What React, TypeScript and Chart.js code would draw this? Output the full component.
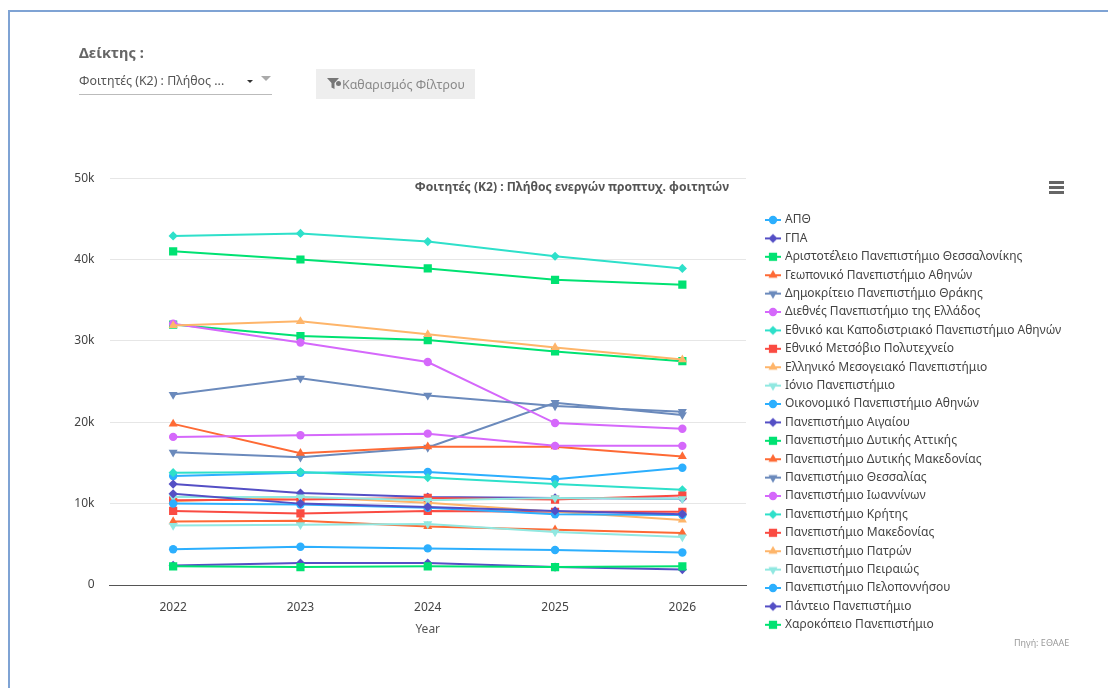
import React, { useEffect, useRef } from "react";
import { Chart, registerables } from "chart.js";
import { drawPoint } from "chart.js/helpers";

Chart.register(...registerables);

const years = ["2022", "2023", "2024", "2025", "2026"];
const chartTitle = "Φοιτητές (Κ2) : Πλήθος ενεργών προπτυχ. φοιτητών";
const seriesNames = [
  "ΑΠΘ",
  "ΓΠΑ",
  "Αριστοτέλειο Πανεπιστήμιο Θεσσαλονίκης",
  "Γεωπονικό Πανεπιστήμιο Αθηνών",
  "Δημοκρίτειο Πανεπιστήμιο Θράκης",
  "Διεθνές Πανεπιστήμιο της Ελλάδος",
  "Εθνικό και Καποδιστριακό Πανεπιστήμιο Αθηνών",
  "Εθνικό Μετσόβιο Πολυτεχνείο",
  "Ελληνικό Μεσογειακό Πανεπιστήμιο",
  "Ιόνιο Πανεπιστήμιο",
  "Οικονομικό Πανεπιστήμιο Αθηνών",
  "Πανεπιστήμιο Αιγαίου",
  "Πανεπιστήμιο Δυτικής Αττικής",
  "Πανεπιστήμιο Δυτικής Μακεδονίας",
  "Πανεπιστήμιο Θεσσαλίας",
  "Πανεπιστήμιο Ιωαννίνων",
  "Πανεπιστήμιο Κρήτης",
  "Πανεπιστήμιο Μακεδονίας",
  "Πανεπιστήμιο Πατρών",
  "Πανεπιστήμιο Πειραιώς",
  "Πανεπιστήμιο Πελοποννήσου",
  "Πάντειο Πανεπιστήμιο",
  "Χαροκόπειο Πανεπιστήμιο",
];

const apth = [4400, 4700, 4500, 4300, 4000];
const gpa = [2400, 2700, 2700, 2200, 1900];
const aristoteleio = [32000, 30600, 30100, 28700, 27500];
const geoponiko = [7800, 7900, 7200, 6800, 6400];
const dimokriteio = [16300, 15700, 16900, 22400, 20900];
const diethnes = [32100, 29800, 27400, 19900, 19200];
const ekpa = [42900, 43200, 42200, 40400, 38900];
const emp = [9100, 8800, 9100, 9000, 9000];
const mesogeiako = [10300, 10800, 10100, 9000, 8000];
const ionio = [7300, 7400, 7500, 6500, 5900];
const oikonomiko = [13400, 13800, 13900, 13000, 14400];
const aigaiou = [12400, 11300, 10800, 10700, 10600];
const dytikiAttiki = [41000, 40000, 38900, 37500, 36900];
const dytikiMakedonia = [19800, 16200, 17000, 17000, 15800];
const thessalia = [23400, 25400, 23300, 22000, 21300];
const ioannina = [18200, 18400, 18600, 17100, 17100];
const kriti = [13800, 13900, 13200, 12400, 11700];
const makedonia = [10400, 10500, 10700, 10500, 11000];
const patra = [31900, 32400, 30800, 29200, 27700];
const peiraias = [10800, 10800, 10400, 10700, 10600];
const peloponnisos = [10000, 9900, 9500, 8700, 8600];
const panteio = [11200, 10000, 9600, 9100, 8700];
const xarokopeio = [2300, 2200, 2300, 2200, 2300];

const seriesValues = [
  apth, gpa, aristoteleio, geoponiko, dimokriteio, diethnes, ekpa, emp, mesogeiako, ionio,
  oikonomiko, aigaiou, dytikiAttiki, dytikiMakedonia, thessalia, ioannina, kriti, makedonia,
  patra, peiraias, peloponnisos, panteio, xarokopeio,
];

const palette = ["#2caffe", "#544fc5", "#00e272", "#fe6a35", "#6b8abc", "#d568fb", "#2ee0ca", "#fa4b42", "#feb56a", "#91e8e1"];
const markers = [
  { pointStyle: "circle", radius: 4.2, rotation: 0 },
  { pointStyle: "rectRot", radius: 4.6, rotation: 0 },
  { pointStyle: "rect", radius: 5.8, rotation: 0 },
  { pointStyle: "triangle", radius: 5.2, rotation: 0 },
  { pointStyle: "triangle", radius: 5.2, rotation: 180 },
];
const FONT = "'Noto Sans', sans-serif";

function makeSprite(color: string, m: any) {
  const c = document.createElement("canvas");
  c.width = 16;
  c.height = 12;
  const ctx = c.getContext("2d")!;
  ctx.strokeStyle = color;
  ctx.lineWidth = 2;
  ctx.beginPath();
  ctx.moveTo(0, 6);
  ctx.lineTo(16, 6);
  ctx.stroke();
  ctx.fillStyle = color;
  drawPoint(ctx, { pointStyle: m.pointStyle, radius: m.radius, rotation: m.rotation, borderWidth: 0 }, 8, 6);
  return c;
}

const placement = {
  id: "placement",
  beforeLayout(chart: any) {
    const l = chart.legend;
    if (l && !l.__patched) {
      const f = l.fit;
      l.fit = function () {
        f.call(this);
        this.width = 362;
      };
      l.__patched = true;
    }
  },
  afterLayout(chart: any) {
    const l = chart.legend;
    l.left = 760.6;
    l.top = 207.6;
    l.bottom = 688;
    const t = chart.titleBlock;
    t.left = 0;
    t.right = 729;
    t.top = 180;
    t.bottom = 194.4;
  },
};

export default function App() {
  const ref = useRef<HTMLCanvasElement>(null);
  useEffect(() => {
    const datasets = seriesNames.map((name, i) => {
      const color = palette[i % palette.length];
      const m = markers[i % markers.length];
      return {
        label: name,
        data: seriesValues[i],
        borderColor: color,
        backgroundColor: color,
        borderWidth: 2,
        pointStyle: m.pointStyle,
        pointRadius: m.radius,
        pointRotation: m.rotation,
        pointBorderWidth: 0,
        tension: 0,
        order: seriesNames.length - i,
      };
    });
    const chart = new Chart(ref.current!, {
      type: "line",
      data: { labels: years, datasets: datasets as any },
      plugins: [placement],
      options: {
        animation: false,
        responsive: false,
        layout: { padding: { left: 0, top: 163.6, right: 0, bottom: 51 } },
        plugins: {
          tooltip: { enabled: false },
          title: {
            display: true,
            text: chartTitle,
            align: "end",
            color: "#555555",
            padding: 0,
            font: { family: FONT, size: 12.1, weight: "bold" },
          },
          legend: {
            position: "right",
            align: "start",
            labels: {
              usePointStyle: true,
              pointStyleWidth: 12,
              padding: 6.4,
              color: "#444444",
              font: { family: FONT, size: 12 },
              generateLabels: () =>
                seriesNames.map((name, i) => ({
                  text: name,
                  pointStyle: makeSprite(palette[i % palette.length], markers[i % markers.length]),
                  fillStyle: palette[i % palette.length],
                  strokeStyle: palette[i % palette.length],
                  lineWidth: 0,
                  hidden: false,
                  datasetIndex: i,
                  fontColor: "#444444",
                })) as any,
            },
          },
        },
        scales: {
          x: {
            offset: true,
            afterFit: (s: any) => {
              s.height = 52;
            },
            grid: { display: false, drawTicks: false, offset: true },
            border: { color: "#555555", width: 1 },
            ticks: { color: "#444444", padding: 15, font: { family: FONT, size: 12 } },
            title: {
              display: true,
              text: "Year",
              color: "#555555",
              padding: 0,
              font: { family: FONT, size: 12 },
            },
          },
          y: {
            min: 0,
            max: 50000,
            afterFit: (s: any) => {
              s.width = 109.5;
            },
            grid: { color: "#e6e6e6", drawTicks: false },
            border: { display: false },
            ticks: {
              stepSize: 10000,
              color: "#444444",
              padding: 15,
              font: { family: FONT, size: 12 },
              callback: (v: any) => (v === 0 ? "0" : v / 1000 + "k"),
            },
          },
        },
      } as any,
    });
    return () => chart.destroy();
  }, []);

  const abs = (o: any): React.CSSProperties => ({ position: "absolute", ...o });
  return (
    <div style={abs({ left: 0, top: 0, width: 1108, height: 688, overflow: "hidden", background: "#fff", fontFamily: FONT })}>
      <canvas ref={ref} width={1108} height={688} style={abs({ left: 0, top: 0, display: "block" })} />
      <div style={abs({ left: 8, top: 10, width: 1100, height: 678, borderLeft: "2px solid #7fa3d4", borderTop: "2px solid #7fa3d4", boxSizing: "border-box", pointerEvents: "none" })} />
      <div style={abs({ left: 79, top: 43, fontSize: 14.6, fontWeight: 700, color: "#666", lineHeight: "18px" })}>Δείκτης :</div>
      <div style={abs({ left: 79, top: 72, fontSize: 12.4, color: "#555", lineHeight: "18px", whiteSpace: "nowrap" })}>Φοιτητές (Κ2) : Πλήθος ...</div>
      <div style={abs({ left: 247, top: 80, width: 0, height: 0, borderLeft: "3px solid transparent", borderRight: "3px solid transparent", borderTop: "3px solid #333" })} />
      <div style={abs({ left: 261, top: 76, width: 0, height: 0, borderLeft: "5px solid transparent", borderRight: "5px solid transparent", borderTop: "5px solid #aaa" })} />
      <div style={abs({ left: 79, top: 94, width: 193, height: 1, background: "#bbb" })} />
      <div style={abs({ left: 316, top: 69, width: 159, height: 30, background: "#eeeeee" })} />
      <svg width="16" height="12" viewBox="0 0 16 12" style={abs({ left: 327, top: 78 })}>
        <path d="M0 0H12L7.5 5V11L4.5 9.5V5Z" fill="#777" />
        <circle cx="11.5" cy="5.5" r="2.5" fill="#777" />
      </svg>
      <div style={abs({ left: 342, top: 76, fontSize: 12.4, color: "#888", lineHeight: "18px", whiteSpace: "nowrap" })}>Καθαρισμός Φίλτρου</div>
      <div style={abs({ left: 1049, top: 181, width: 15, height: 3, background: "#666" })} />
      <div style={abs({ left: 1049, top: 186, width: 15, height: 3, background: "#666" })} />
      <div style={abs({ left: 1049, top: 191, width: 15, height: 3, background: "#666" })} />
      <div style={abs({ left: 1014, top: 637, fontSize: 9, color: "#999", lineHeight: "12px", whiteSpace: "nowrap" })}>Πηγή: ΕΘΑΑΕ</div>
    </div>
  );
}
